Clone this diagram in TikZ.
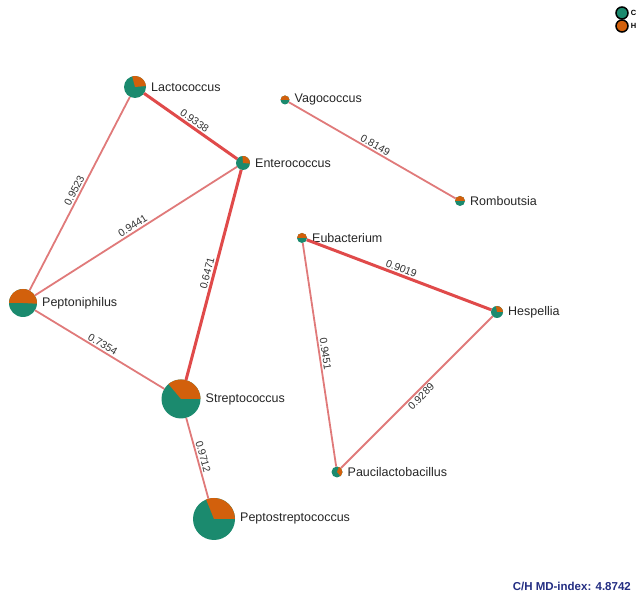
\documentclass[tikz,border=0pt]{standalone}
\usepackage{fontspec}
\setmainfont{Liberation Sans}
\usetikzlibrary{positioning}

\definecolor{cgreen}{HTML}{1B8A6E}
\definecolor{horange}{HTML}{D2600C}
\definecolor{edgered}{HTML}{E04A4A}
\definecolor{edgepink}{HTML}{E07A7A}
\definecolor{mdblue}{HTML}{232D82}

% #1 name, #2 centre, #3 radius, #4/#5 angles of the H wedge, #6 label
\newcommand{\pienode}[6]{%
  \node[taxon, minimum size=2*#3pt] (#1) at (#2) {};
  \fill[cgreen] (#1.center) circle (#3pt);
  \fill[horange] (#1.center) -- ++(#4:#3pt) arc (#4:#5:#3pt) -- cycle;
  \node[taxlabel, right=5pt of #1] (#1-lab) {#6};
}

\begin{document}
\begin{tikzpicture}[x=1pt, y=1pt,
      taxon/.style={circle, inner sep=0pt, outer sep=0pt},
      taxlabel/.style={inner sep=0pt, font=\fontsize{12.5}{14}\selectfont, text=black!85},
      weak/.style={draw=edgepink, line width=1.8pt},
      strong/.style={draw=edgered, line width=3pt},
      elabel/.style={midway, sloped, above, inner sep=1.5pt, font=\fontsize{10.5}{12}\selectfont, text=black!80},
      legdot/.style={circle, draw=black, line width=1.5pt, inner sep=0pt, minimum size=12pt}]
    \useasboundingbox (0,0) rectangle (642,596);

    \pienode{lacto}{135,509}{11}{5}{105}{Lactococcus}
    \pienode{entero}{243,433}{7}{-5}{95}{Enterococcus}
    \pienode{vago}{285,496}{4.5}{0}{180}{Vagococcus}
    \pienode{rombo}{460,395}{5}{0}{180}{Romboutsia}
    \pienode{eubac}{302,358}{5}{0}{180}{Eubacterium}
    \pienode{hesp}{497,284}{6}{0}{100}{Hespellia}
    \pienode{pauci}{337,124}{5.5}{-50}{70}{Paucilactobacillus}
    \pienode{pepton}{23,293}{14}{-3}{180}{Peptoniphilus}
    \pienode{strep}{181,197}{19.5}{0}{130}{Streptococcus}
    \pienode{peptost}{214,77}{21}{0}{112}{Peptostreptococcus}

    \draw[strong] (lacto) -- node[elabel] {0.9338} (entero);
    \draw[weak] (pepton) -- node[elabel] {0.9523} (lacto);
    \draw[weak] (pepton) -- node[elabel] {0.9441} (entero);
    \draw[strong] (strep) -- node[elabel] {0.6471} (entero);
    \draw[weak] (pepton) -- node[elabel] {0.7354} (strep);
    \draw[weak] (strep) -- node[elabel] {0.9712} (peptost);
    \draw[weak] (vago) -- node[elabel] {0.8149} (rombo);
    \draw[strong] (eubac) -- node[elabel] {0.9019} (hesp);
    \draw[weak] (eubac) -- node[elabel] {0.9451} (pauci);
    \draw[weak] (pauci) -- node[elabel, below] {0.9289} (hesp);

    % legend
    \node[legdot, fill=cgreen] (legc) at (622,583) {};
    \node[legdot, fill=horange] (legh) at (622,570) {};
    \node[right=2pt of legc, inner sep=0pt, font=\bfseries\fontsize{7.5}{8}\selectfont] (legc-lab) {C};
    \node[right=2pt of legh, inner sep=0pt, font=\bfseries\fontsize{7.5}{8}\selectfont] (legh-lab) {H};

    \node[anchor=east, inner sep=0pt, text=mdblue, font=\bfseries\fontsize{11.5}{13}\selectfont] (mdindex) at (631,10) {C/H MD-index: 4.8742};
\end{tikzpicture}
\end{document}
